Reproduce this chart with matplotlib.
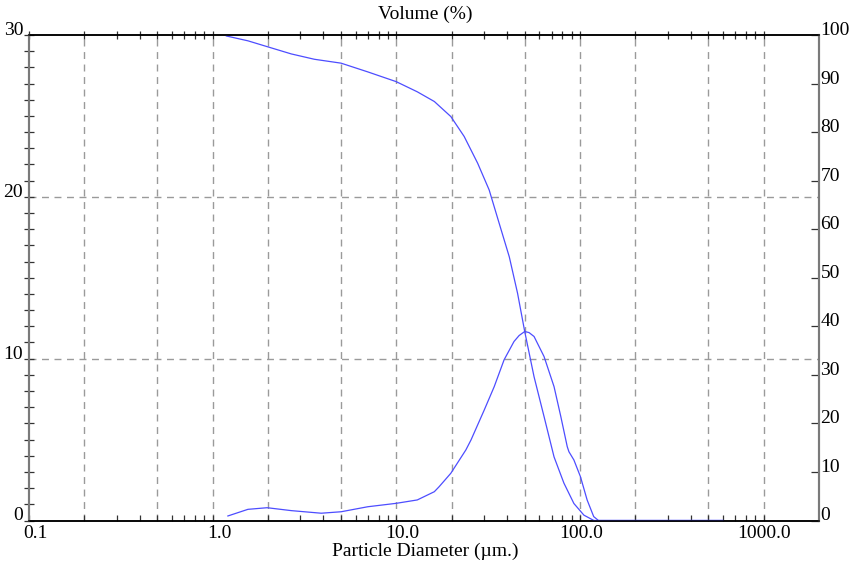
import matplotlib.pyplot as plt
import numpy as np
from matplotlib.ticker import FixedLocator, MultipleLocator, NullFormatter

plt.rcParams['font.family'] = ['Liberation Serif', 'DejaVu Serif']

# volume frequency (%), left axis
freq_size = [1.21, 1.556, 1.98, 2.68, 3.9, 5.0, 6.99, 9.97, 13.0, 16.1, 17.1, 19.8,
             23.9, 25.5, 30.1, 34.1, 38.6, 43.7, 46.6, 50.0, 52.8, 56.2, 63.7,
             72.2, 78.6, 85.2, 87.0, 92.6, 100.5, 109.3, 118.7, 126.0, 300.0, 600.0]
freq_vol = [0.28, 0.69, 0.79, 0.61, 0.45, 0.54, 0.85, 1.06, 1.27, 1.78, 2.09, 2.92,
            4.36, 4.98, 6.83, 8.27, 9.93, 11.06, 11.43, 11.68, 11.61, 11.37, 10.13,
            8.27, 6.42, 4.56, 4.25, 3.74, 2.71, 1.27, 0.24, 0.0, 0.0, 0.0]

# cumulative volume undersize (%), right axis
cum_size = [1.187, 1.556, 1.98, 2.68, 3.58, 5.0, 6.99, 9.97, 13.0, 16.1, 19.8, 23.4,
            27.7, 32.0, 36.3, 41.2, 45.7, 50.0, 56.2, 63.7, 72.2, 81.7, 92.6,
            105.0, 119.0, 600.0]
cum_vol = [99.8, 98.8, 97.6, 96.1, 95.0, 94.2, 92.4, 90.4, 88.3, 86.3, 83.2, 79.1,
           73.6, 68.1, 61.2, 54.3, 46.8, 38.9, 29.6, 21.4, 13.1, 7.7, 3.5,
           1.1, 0.0, 0.0]

x_ticks = [0.1, 1.0, 10.0, 100.0, 1000.0]
x_labels = ['0.1', '1.0', '10.0', '100.0', '1000.0']
x_label_dx = [6.5, 6.5, 5.5, 1.5, 0.0]

line_col = '#4d4dff'
grid_col = '#9a9a9a'

fig = plt.figure(figsize=(8.5, 5.65), dpi=100)
ax = fig.add_axes([29 / 850, 1 - 520.5 / 565, 790 / 850, 485.5 / 565])
ax2 = ax.twinx()

ax.plot(freq_size, freq_vol, color=line_col, lw=0.9)
ax2.plot(cum_size, cum_vol, color=line_col, lw=0.9)

ax.set_xscale('log')
ax.set_xlim(0.1, 2000)
ax.set_ylim(0, 30)
ax2.set_ylim(0, 100)

# dashed grid at 1, 2, 5 of each decade and at 10 / 20 on the left scale
decades = [0.1, 1, 10, 100, 1000]
for d in decades:
    for m in (1, 2, 5):
        v = d * m
        if 0.1 < v < 2000:
            ax.axvline(v, color=grid_col, lw=1, ls=(0, (5, 4)), zorder=0)
for y in (10, 20):
    ax.axhline(y, color=grid_col, lw=1, ls=(0, (5, 4)), zorder=0)

# x ticks: inward on the bottom, crossing on top
minor_x = [d * m for d in decades for m in range(2, 10) if d * m < 2000]
ax.xaxis.set_major_locator(FixedLocator(x_ticks))
ax.xaxis.set_minor_locator(FixedLocator(minor_x))
ax.xaxis.set_major_formatter(NullFormatter())
ax.xaxis.set_minor_formatter(NullFormatter())
ax.tick_params(axis='x', which='both', direction='in', length=4, width=0.9,
               color='#333333', bottom=True, top=False)

top = ax.secondary_xaxis('top')
top.xaxis.set_major_locator(FixedLocator(x_ticks))
top.xaxis.set_minor_locator(FixedLocator(minor_x))
top.xaxis.set_major_formatter(NullFormatter())
top.xaxis.set_minor_formatter(NullFormatter())
top.tick_params(axis='x', which='both', direction='inout', length=6, width=0.9,
                color='#333333')
top.spines['top'].set_visible(False)

for v, lab, dx in zip(x_ticks, x_labels, x_label_dx):
    ax.annotate(lab, xy=(v, 0), xycoords=('data', 'axes fraction'),
                xytext=(dx, -5), textcoords='offset pixels',
                ha='center', va='top', fontsize=14)

# left scale
ax.set_yticks([0, 10, 20, 30], ['0', '10', '20', '30'], va='baseline', fontsize=14)
ax.yaxis.set_minor_locator(MultipleLocator(1))
ax.tick_params(axis='y', which='both', direction='inout', length=6.5, width=0.9,
               color='#333333', pad=1)

# right scale
ax2.set_yticks(np.arange(0, 101, 10), [str(v) for v in range(0, 101, 10)],
               va='baseline', fontsize=14)
ax2.tick_params(axis='y', direction='in', length=5.5, width=0.9,
                color='#333333', pad=1)

for a in (ax, ax2):
    a.spines['top'].set_color('black')
    a.spines['bottom'].set_color('black')
    a.spines['top'].set_linewidth(1.1)
    a.spines['bottom'].set_linewidth(1.1)
    a.spines['left'].set_color('#7a7a7a')
    a.spines['right'].set_color('#7a7a7a')
    a.spines['left'].set_linewidth(1.5)
    a.spines['right'].set_linewidth(1.5)

fig.text(425 / 850, 1 - 14 / 565, 'Volume (%)', ha='center', va='center', fontsize=14)
fig.text(425 / 850, 1 - 551 / 565, 'Particle Diameter (µm.)', ha='center',
         va='center', fontsize=14)

fig.savefig('out.png', dpi=100)
